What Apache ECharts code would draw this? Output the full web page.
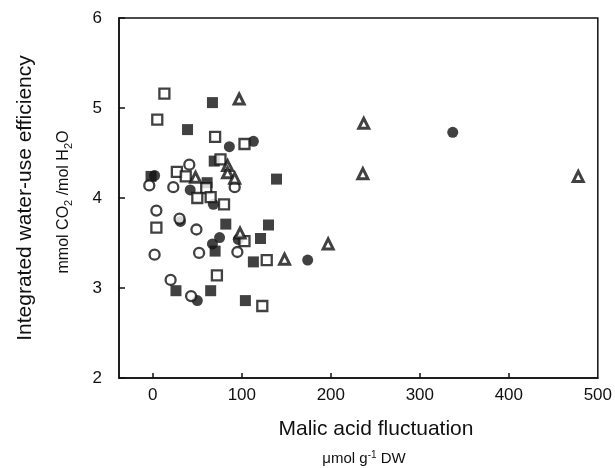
<!DOCTYPE html>
<html>
<head>
<meta charset="utf-8">
<script src="https://cdn.jsdelivr.net/npm/echarts@6/dist/echarts.min.js"></script>
<style>html,body{margin:0;padding:0;background:#fff;}#c{width:615px;height:468px;}</style>
</head>
<body>
<div id="c"></div>
<script>
// Open squares
var openSqX = [13, 5, 70, 103, 76, 27, 37, 60, 50, 65, 80, 4, 103, 128, 72, 123];
var openSqY = [5.16, 4.87, 4.68, 4.60, 4.43, 4.29, 4.24, 4.11, 4.00, 4.01, 3.93, 3.67, 3.52, 3.31, 3.14, 2.80];
// Filled squares
var filledSqX = [67, 39, 139, -2, 69, 61, 82, 130, 121, 70, 113, 26, 65, 104];
var filledSqY = [5.06, 4.76, 4.21, 4.24, 4.41, 4.17, 3.71, 3.70, 3.55, 3.41, 3.29, 2.97, 2.97, 2.86];
// Open circles
var openCircX = [41, -4, 23, 92, 4, 30, 49, 2, 52, 95, 20, 43];
var openCircY = [4.37, 4.14, 4.12, 4.12, 3.86, 3.77, 3.65, 3.37, 3.39, 3.40, 3.09, 2.91];
// Filled circles
var filledCircX = [113, 86, 2, 42, 68, 31, 75, 67, 96, 50, 174, 337];
var filledCircY = [4.63, 4.57, 4.25, 4.09, 3.93, 3.74, 3.56, 3.49, 3.54, 2.86, 3.31, 4.73];
// Open triangles
var triX = [97, 48, 84, 84, 92, 98, 148, 197, 237, 236, 478];
var triY = [5.10, 4.23, 4.36, 4.28, 4.22, 3.61, 3.32, 3.49, 4.83, 4.27, 4.24];

var xTicks = [0, 100, 200, 300, 400];
var xLabels = [0, 100, 200, 300, 400, 500];

function pairs(xs, ys) { return xs.map(function (x, i) { return [x, ys[i]]; }); }

var ink = '#111';
var font = '"Liberation Sans", Arial, sans-serif';

function openStyle() { return { color: '#fff', borderColor: ink, borderWidth: 2.3 }; }
function fillStyle() { return { color: ink, borderColor: ink, borderWidth: 0 }; }

var chart = echarts.init(document.getElementById('c'), null, { renderer: 'canvas' });
chart.setOption({
  animation: false,
  backgroundColor: '#fff',
  grid: { left: 119, right: 13, top: 18, bottom: 90, show: true, borderColor: ink, borderWidth: 1.5, backgroundColor: 'transparent' },
  xAxis: {
    type: 'value', min: -38, max: 500,
    splitLine: { show: false },
    axisLine: { show: true, onZero: false, lineStyle: { color: ink, width: 1.5 } },
    axisTick: { show: true, inside: true, length: 5, customValues: xTicks, lineStyle: { color: ink, width: 1.5 } },
    axisLabel: { customValues: xLabels, color: ink, fontSize: 17, fontFamily: font, margin: 9 }
  },
  yAxis: {
    type: 'value', min: 2, max: 6, interval: 1,
    splitLine: { show: false },
    axisLine: { show: true, onZero: false, lineStyle: { color: ink, width: 1.5 } },
    axisTick: { show: true, inside: true, length: 6, lineStyle: { color: ink, width: 1.5 } },
    axisLabel: { color: ink, fontSize: 17, fontFamily: font, margin: 17 }
  },
  graphic: [
    { type: 'text', x: 25, y: 198, rotation: Math.PI / 2,
      style: { text: 'Integrated water-use efficiency', fill: ink, font: '21px ' + font, align: 'center', verticalAlign: 'middle' } },
    { type: 'text', x: 64, y: 202, rotation: Math.PI / 2,
      style: { text: 'mmol CO{sub|2} /mol H{sub|2}O', fill: ink, font: '16px ' + font, align: 'center', verticalAlign: 'middle',
        rich: { sub: { fontSize: 11, fontFamily: font, fill: ink, verticalAlign: 'bottom', lineHeight: 20 } } } },
    { type: 'text', x: 376, y: 429,
      style: { text: 'Malic acid fluctuation', fill: ink, font: '21px ' + font, align: 'center', verticalAlign: 'middle' } },
    { type: 'text', x: 364, y: 459,
      style: { text: 'μmol g{sup|-1} DW', fill: ink, font: '15px ' + font, align: 'center', verticalAlign: 'middle',
        rich: { sup: { fontSize: 10, fontFamily: font, fill: ink, verticalAlign: 'top', lineHeight: 18 } } } }
  ],
  series: [
    { type: 'scatter', name: 'openSq', symbol: 'rect', symbolSize: 10, data: pairs(openSqX, openSqY), itemStyle: openStyle(), z: 3 },
    { type: 'scatter', name: 'filledSq', symbol: 'rect', symbolSize: 11, data: pairs(filledSqX, filledSqY), itemStyle: fillStyle(), z: 2 },
    { type: 'scatter', name: 'openCirc', symbol: 'circle', symbolSize: 10, data: pairs(openCircX, openCircY), itemStyle: openStyle(), z: 3 },
    { type: 'scatter', name: 'filledCirc', symbol: 'circle', symbolSize: 11, data: pairs(filledCircX, filledCircY), itemStyle: fillStyle(), z: 2 },
    { type: 'scatter', name: 'tri', symbol: 'triangle', symbolSize: 10, data: pairs(triX, triY), itemStyle: { color: '#fff', borderColor: ink, borderWidth: 3 }, z: 4 }
  ]
});
</script>
</body>
</html>
